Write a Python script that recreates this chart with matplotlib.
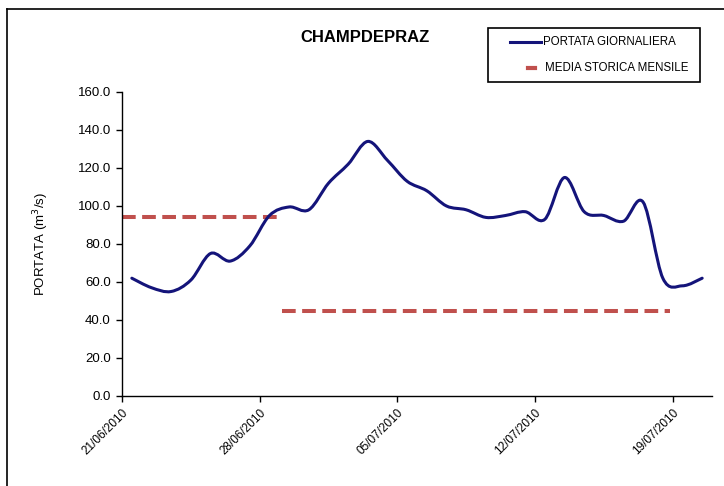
import numpy as np
import matplotlib
matplotlib.use("Agg")
import matplotlib.pyplot as plt
from matplotlib.path import Path
from matplotlib.patches import PathPatch, Rectangle
from matplotlib.lines import Line2D

plt.rcParams['font.family'] = ['Liberation Sans', 'DejaVu Sans']

# ---- data ----
tick_days = [0, 7, 14, 21, 28]
tick_labels = ["21/06/2010", "28/06/2010", "05/07/2010", "12/07/2010", "19/07/2010"]
day_index = np.arange(30)
portata = [62, 57, 55, 61, 75, 71, 79, 95, 99.5, 98,
           112, 122, 134, 124, 113, 108, 100, 98, 94, 95,
           97, 93, 115, 97, 95, 92, 102, 62, 58, 62]
media_start = [0.0, 8.15]
media_end = [7.9, 27.85]
media_val = [94.0, 44.7]

title = "CHAMPDEPRAZ"
ylabel = "PORTATA (m$^3$/s)"
legend_labels = ["PORTATA GIORNALIERA", "MEDIA STORICA MENSILE"]

navy = "#14147a"
red = "#c0504d"

W, H = 724, 486
fig = plt.figure(figsize=(W/100, H/100), dpi=100)
ax = fig.add_axes([122/W, 1-396/H, (712-122)/W, (396-92)/H])

# smoothed line (Catmull-Rom style bezier, as Excel smoothing)
xs = day_index + 0.5
ys = np.array(portata, dtype=float)
verts = [(xs[0], ys[0])]
codes = [Path.MOVETO]
n = len(xs)
for i in range(n - 1):
    p0 = np.array([xs[max(i-1, 0)], ys[max(i-1, 0)]])
    p1 = np.array([xs[i], ys[i]])
    p2 = np.array([xs[i+1], ys[i+1]])
    p3 = np.array([xs[min(i+2, n-1)], ys[min(i+2, n-1)]])
    c1 = p1 + (p2 - p0) / 6.0
    c2 = p2 - (p3 - p1) / 6.0
    verts += [tuple(c1), tuple(c2), tuple(p2)]
    codes += [Path.CURVE4] * 3
patch = PathPatch(Path(verts, codes), facecolor='none', edgecolor=navy,
                  lw=2.2, capstyle='round', joinstyle='round', zorder=3)
ax.add_patch(patch)

for s, e, v in zip(media_start, media_end, media_val):
    ax.plot([s, e], [v, v], color=red, lw=2.9, dashes=(3.4, 1.6),
            solid_capstyle='butt', dash_capstyle='butt', zorder=2)

ax.set_xlim(0, 30)
ax.set_ylim(0, 160)
yt = np.arange(0, 161, 20)
ax.set_yticks(yt)
ax.set_yticklabels([f"{v:.1f}" for v in yt], fontsize=9.5)
ax.set_xticks(tick_days)
ax.set_xticklabels(tick_labels, rotation=45, ha='right', va='top',
                   rotation_mode='anchor', fontsize=8.5)
for sp in ['top', 'right']:
    ax.spines[sp].set_visible(False)
for sp in ['left', 'bottom']:
    ax.spines[sp].set_linewidth(1.0)
    ax.spines[sp].set_color('black')
ax.tick_params(axis='both', direction='out', length=4, width=1, pad=4)
ax.set_ylabel(ylabel, fontsize=9.5, labelpad=19)

fig.text(365/W, 1-37/H, title, ha='center', va='center',
         fontsize=12, fontweight='bold')

# legend box (drawn manually to match layout)
fig.add_artist(Rectangle((488/W, 1-82/H), (700-488)/W, (82-28)/H,
                         transform=fig.transFigure, facecolor='white',
                         edgecolor='black', lw=1.2))
fig.add_artist(Line2D([510/W, 541/W], [1-42/H, 1-42/H], color=navy, lw=2.2,
                      transform=fig.transFigure))
fig.add_artist(Line2D([528/W, 535/W], [1-68/H, 1-68/H], color=red, lw=3,
                      transform=fig.transFigure))
fig.text(543/W, 1-42/H, legend_labels[0], ha='left', va='center', fontsize=8.3)
fig.text(545/W, 1-68/H, legend_labels[1], ha='left', va='center', fontsize=8.3)

# figure border (top and left)
fig.add_artist(Line2D([7/W, 1], [1-9/H, 1-9/H], color='black', lw=1.2,
                      transform=fig.transFigure))
fig.add_artist(Line2D([7/W, 7/W], [0, 1-9/H], color='black', lw=1.2,
                      transform=fig.transFigure))

fig.savefig("out.png", dpi=100)
